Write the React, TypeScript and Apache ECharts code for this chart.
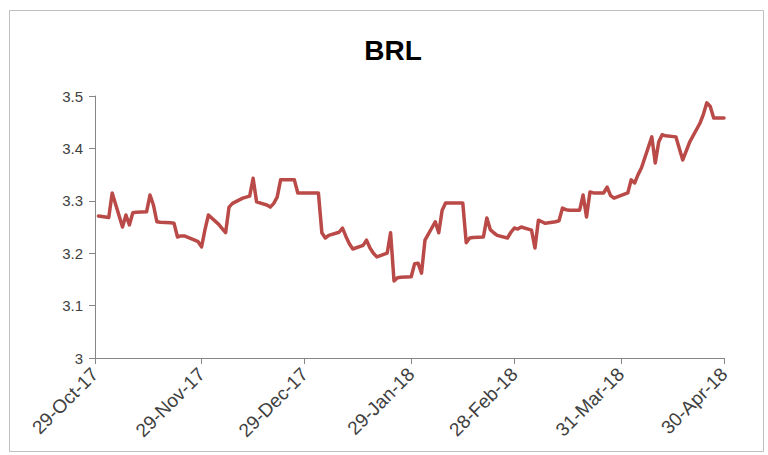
import React, { useEffect, useRef } from "react";
import * as echarts from "echarts";

const title = "BRL";

const dates = [
  "2017-10-30", "2017-10-31", "2017-11-01", "2017-11-02", "2017-11-03",
  "2017-11-06", "2017-11-07", "2017-11-08", "2017-11-09", "2017-11-10",
  "2017-11-13", "2017-11-14", "2017-11-15", "2017-11-16", "2017-11-17",
  "2017-11-20", "2017-11-21", "2017-11-22", "2017-11-23", "2017-11-24",
  "2017-11-27", "2017-11-28", "2017-11-29", "2017-11-30", "2017-12-01",
  "2017-12-04", "2017-12-05", "2017-12-06", "2017-12-07", "2017-12-08",
  "2017-12-11", "2017-12-12", "2017-12-13", "2017-12-14", "2017-12-15",
  "2017-12-18", "2017-12-19", "2017-12-20", "2017-12-21", "2017-12-22",
  "2017-12-26", "2017-12-27", "2017-12-28", "2017-12-29",
  "2018-01-02", "2018-01-03", "2018-01-04", "2018-01-05",
  "2018-01-08", "2018-01-09", "2018-01-10", "2018-01-11", "2018-01-12",
  "2018-01-15", "2018-01-16", "2018-01-17", "2018-01-18", "2018-01-19",
  "2018-01-22", "2018-01-23", "2018-01-24", "2018-01-25", "2018-01-26",
  "2018-01-29", "2018-01-30", "2018-01-31", "2018-02-01", "2018-02-02",
  "2018-02-05", "2018-02-06", "2018-02-07", "2018-02-08", "2018-02-09",
  "2018-02-12", "2018-02-13", "2018-02-14", "2018-02-15", "2018-02-16",
  "2018-02-19", "2018-02-20", "2018-02-21", "2018-02-22", "2018-02-23",
  "2018-02-26", "2018-02-27", "2018-02-28", "2018-03-01", "2018-03-02",
  "2018-03-05", "2018-03-06", "2018-03-07", "2018-03-08", "2018-03-09",
  "2018-03-12", "2018-03-13", "2018-03-14", "2018-03-15", "2018-03-16",
  "2018-03-19", "2018-03-20", "2018-03-21", "2018-03-22", "2018-03-23",
  "2018-03-26", "2018-03-27", "2018-03-28", "2018-03-29",
  "2018-04-02", "2018-04-03", "2018-04-04", "2018-04-05", "2018-04-06",
  "2018-04-09", "2018-04-10", "2018-04-11", "2018-04-12", "2018-04-13",
  "2018-04-16", "2018-04-17", "2018-04-18", "2018-04-19", "2018-04-20",
  "2018-04-23", "2018-04-24", "2018-04-25", "2018-04-26", "2018-04-27",
  "2018-04-30",
];

const values = [
  3.271, 3.270, 3.269, 3.268, 3.315,
  3.250, 3.273, 3.254, 3.277, 3.278,
  3.279, 3.311, 3.292, 3.260, 3.259,
  3.258, 3.257, 3.231, 3.233, 3.233,
  3.225, 3.222, 3.212, 3.245, 3.273,
  3.255, 3.247, 3.239, 3.288, 3.295,
  3.305, 3.307, 3.309, 3.343, 3.298,
  3.292, 3.288, 3.295, 3.307, 3.340,
  3.340, 3.315, 3.315, 3.315,
  3.315, 3.239, 3.229, 3.234,
  3.240, 3.248, 3.232, 3.218, 3.208,
  3.215, 3.225, 3.210, 3.200, 3.193,
  3.200, 3.239, 3.147, 3.153, 3.154,
  3.155, 3.180, 3.181, 3.162, 3.225,
  3.260, 3.239, 3.282, 3.296, 3.296,
  3.296, 3.296, 3.220, 3.229, 3.230,
  3.231, 3.267, 3.245, 3.239, 3.234,
  3.229, 3.240, 3.248, 3.246, 3.250,
  3.244, 3.210, 3.263, 3.260, 3.257,
  3.260, 3.262, 3.286, 3.283, 3.282,
  3.282, 3.311, 3.269, 3.317, 3.315,
  3.315, 3.326, 3.310, 3.305,
  3.315, 3.340, 3.334, 3.350, 3.363,
  3.422, 3.372, 3.412, 3.426, 3.424,
  3.422, 3.400, 3.378, 3.395, 3.412,
  3.448, 3.465, 3.487, 3.480, 3.458,
  3.458,
];

const tickDates = [
  "2017-10-29", "2017-11-29", "2017-12-29", "2018-01-29",
  "2018-02-28", "2018-03-31", "2018-04-30",
];
const tickLabels = [
  "29-Oct-17", "29-Nov-17", "29-Dec-17", "29-Jan-18",
  "28-Feb-18", "31-Mar-18", "30-Apr-18",
];

const yMin = 3;
const yMax = 3.5;
const yStep = 0.1;

function toTs(s: string): number {
  const [y, m, d] = s.split("-").map(Number);
  return Date.UTC(y, m - 1, d);
}

export default function App() {
  const ref = useRef<HTMLDivElement>(null);

  useEffect(() => {
    if (!ref.current) return;
    const chart = echarts.init(ref.current, null, { renderer: "svg" });
    const tickTs = tickDates.map(toTs);
    const labelFor = (v: number) => {
      const i = tickTs.indexOf(v);
      return i >= 0 ? tickLabels[i] : "";
    };
    const font = "'Liberation Sans', Arial, sans-serif";
    const axisColor = "#868686";
    chart.setOption({
      animation: false,
      backgroundColor: "#ffffff",
      title: {
        text: title,
        left: 388,
        top: 31,
        textAlign: "center",
        textStyle: {
          fontFamily: font,
          fontWeight: "bold",
          fontSize: 28,
          color: "#000000",
        },
      },
      graphic: [
        {
          type: "rect",
          shape: { x: 9.5, y: 10.5, width: 754, height: 441 },
          style: { fill: "none", stroke: "#BFBFBF", lineWidth: 1 },
          silent: true,
        },
      ],
      grid: { left: 95, right: 44, top: 96, bottom: 97 },
      xAxis: {
        type: "value",
        min: tickTs[0],
        max: tickTs[tickTs.length - 1],
        splitLine: { show: false },
        axisLine: { show: true, onZero: false, lineStyle: { color: axisColor, width: 1 } },
        axisTick: {
          show: true,
          customValues: tickTs,
          length: 6,
          lineStyle: { color: axisColor },
        },
        axisLabel: {
          customValues: tickTs,
          formatter: (v: number) => labelFor(v),
          rotate: 45,
          margin: 13,
          fontFamily: font,
          fontSize: 19,
          color: "#404040",
        },
      },
      yAxis: {
        type: "value",
        min: yMin,
        max: yMax,
        interval: yStep,
        splitLine: { show: false },
        axisLine: { show: true, lineStyle: { color: axisColor, width: 1 } },
        axisTick: { show: true, length: 6, lineStyle: { color: axisColor } },
        axisLabel: {
          formatter: (v: number) => (Math.abs(v - 3) < 1e-9 ? "3" : v.toFixed(1)),
          margin: 12,
          fontFamily: font,
          fontSize: 15,
          color: "#404040",
        },
      },
      series: [
        {
          type: "line",
          data: dates.map((d, i) => [toTs(d), values[i]]),
          showSymbol: false,
          symbol: "none",
          lineStyle: { color: "#BA4A47", width: 3.5, cap: "round", join: "round" },
        },
      ],
    });
    return () => chart.dispose();
  }, []);

  return (
    <div
      ref={ref}
      style={{ position: "fixed", left: 0, top: 0, width: 768, height: 455, background: "#fff" }}
    />
  );
}
